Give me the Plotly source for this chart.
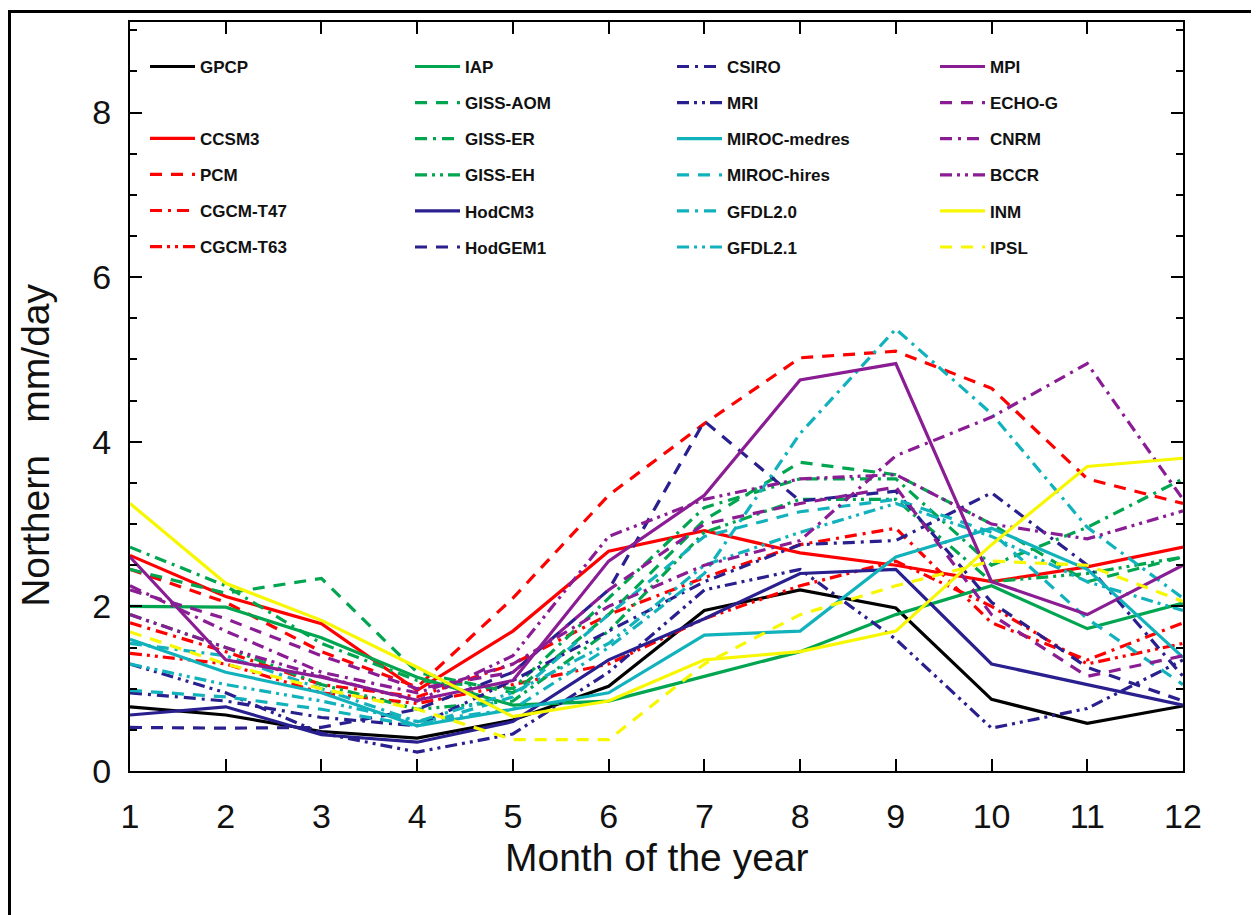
import plotly.graph_objects as go

months = list(range(1, 13))

# ---- data (mm/day), months 1..12 ----
GPCP = [0.78, 0.68, 0.48, 0.40, 0.62, 1.03, 1.95, 2.20, 1.98, 0.87, 0.58, 0.79]
CCSM3 = [2.62, 2.12, 1.79, 0.98, 1.70, 2.67, 2.92, 2.65, 2.50, 2.30, 2.48, 2.72]
PCM = [2.45, 2.05, 1.45, 1.02, 2.10, 3.35, 4.22, 5.02, 5.10, 4.65, 3.55, 3.25]
CGCM_T47 = [1.80, 1.45, 1.05, 0.90, 1.30, 1.90, 2.35, 2.75, 2.95, 1.80, 1.35, 1.80]
CGCM_T63 = [1.43, 1.30, 0.95, 0.82, 1.05, 1.30, 1.85, 2.25, 2.55, 2.00, 1.30, 1.55]
IAP = [2.00, 1.99, 1.62, 1.14, 0.80, 0.85, 1.15, 1.45, 1.90, 2.25, 1.73, 2.04]
GISS_AOM = [2.45, 2.16, 2.34, 1.20, 0.95, 1.90, 3.05, 3.75, 3.60, 3.00, 2.30, 2.60]
GISS_ER = [2.72, 2.25, 1.55, 1.10, 1.00, 2.10, 3.20, 3.55, 3.55, 2.50, 2.96, 3.55]
GISS_EH = [1.90, 1.50, 1.05, 0.75, 0.85, 1.70, 2.90, 3.30, 3.30, 2.30, 2.40, 2.60]
HadCM3 = [0.68, 0.78, 0.44, 0.35, 0.60, 1.35, 1.85, 2.40, 2.45, 1.30, 1.05, 0.80]
HadGEM1 = [0.53, 0.52, 0.53, 0.75, 1.20, 2.20, 4.25, 3.28, 3.40, 2.05, 1.26, 0.85]
CSIRO = [0.95, 0.85, 0.65, 0.55, 1.10, 1.70, 2.30, 2.75, 2.80, 3.38, 2.50, 1.15]
MRI = [1.30, 0.95, 0.46, 0.23, 0.45, 1.20, 2.20, 2.45, 1.60, 0.52, 0.76, 1.35]
MIROC_med = [1.60, 1.20, 0.95, 0.55, 0.75, 0.95, 1.65, 1.70, 2.60, 2.95, 2.45, 1.38]
MIROC_hi = [0.98, 0.90, 0.75, 0.55, 0.90, 1.90, 2.85, 3.15, 3.30, 2.90, 1.85, 1.05]
GFDL20 = [1.55, 1.40, 1.00, 0.60, 0.75, 1.50, 2.40, 4.10, 5.37, 4.34, 2.96, 2.10]
GFDL21 = [1.30, 1.05, 0.85, 0.60, 0.95, 1.55, 2.50, 2.90, 3.25, 2.85, 2.30, 1.95]
MPI = [2.60, 1.35, 1.14, 0.86, 1.10, 2.55, 3.35, 4.75, 4.95, 2.30, 1.90, 2.50]
ECHO_G = [2.20, 1.85, 1.40, 1.00, 1.20, 2.20, 3.00, 3.25, 3.45, 1.90, 1.15, 1.40]
CNRM = [2.25, 1.70, 1.20, 0.95, 1.30, 2.00, 2.50, 2.80, 3.83, 4.30, 4.95, 3.30]
BCCR = [1.90, 1.50, 1.15, 0.85, 1.40, 2.85, 3.30, 3.55, 3.60, 3.00, 2.82, 3.16]
INM = [3.25, 2.28, 1.83, 1.26, 0.66, 0.85, 1.35, 1.45, 1.70, 2.75, 3.70, 3.80]
IPSL = [1.69, 1.30, 1.00, 0.75, 0.38, 0.38, 1.30, 1.90, 2.25, 2.55, 2.50, 2.06]

y_tick_vals = [0, 2, 4, 6, 8]
x_tick_vals = months

# ---- styles ----
BLACK = "#000000"
RED = "#ff0000"
GREEN = "#00a550"
NAVY = "#2a1f8f"
CYAN = "#12b2bc"
PURPLE = "#8a1c94"
YELLOW = "#f7f700"

SOLID = "solid"
DASH = "12px,9px"
DASHDOT = "12px,6px,3px,6px"
DASHDOTDOT = "12px,5px,3px,5px,3px,5px"

series = [
    # (name, values, color, dash, legend)
    ("GPCP", GPCP, BLACK, SOLID, "legend"),
    ("CCSM3", CCSM3, RED, SOLID, "legend2"),
    ("PCM", PCM, RED, DASH, "legend2"),
    ("CGCM-T47", CGCM_T47, RED, DASHDOT, "legend2"),
    ("CGCM-T63", CGCM_T63, RED, DASHDOTDOT, "legend2"),
    ("IAP", IAP, GREEN, SOLID, "legend3"),
    ("GISS-AOM", GISS_AOM, GREEN, DASH, "legend3"),
    ("GISS-ER", GISS_ER, GREEN, DASHDOT, "legend3"),
    ("GISS-EH", GISS_EH, GREEN, DASHDOTDOT, "legend3"),
    ("HodCM3", HadCM3, NAVY, SOLID, "legend3"),
    ("HodGEM1", HadGEM1, NAVY, DASH, "legend3"),
    ("CSIRO", CSIRO, NAVY, DASHDOT, "legend4"),
    ("MRI", MRI, NAVY, DASHDOTDOT, "legend4"),
    ("MIROC-medres", MIROC_med, CYAN, SOLID, "legend4"),
    ("MIROC-hires", MIROC_hi, CYAN, DASH, "legend4"),
    ("GFDL2.0", GFDL20, CYAN, DASHDOT, "legend4"),
    ("GFDL2.1", GFDL21, CYAN, DASHDOTDOT, "legend4"),
    ("MPI", MPI, PURPLE, SOLID, "legend5"),
    ("ECHO-G", ECHO_G, PURPLE, DASH, "legend5"),
    ("CNRM", CNRM, PURPLE, DASHDOT, "legend5"),
    ("BCCR", BCCR, PURPLE, DASHDOTDOT, "legend5"),
    ("INM", INM, YELLOW, SOLID, "legend5"),
    ("IPSL", IPSL, YELLOW, DASH, "legend5"),
]

fig = go.Figure()
for name, vals, color, dash, lg in series:
    fig.add_trace(go.Scatter(
        x=months, y=vals, mode="lines", name=name,
        line=dict(color=color, width=3.2, dash=dash),
        legend=lg, legendgroup=name,
    ))

# page geometry (the page body has an 8px margin around the figure)
OFF = 8
PAGE_W, PAGE_H = 1259, 915
PL, PR, PT, PB = 130, 1183, 20, 771          # plot area in page pixels
W, H = PAGE_W - OFF, PAGE_H - OFF
pw, ph = PR - PL, PB - PT


def px_x(px):
    return (px - PL) / pw


def px_y(py):
    return (PB - py) / ph


legend_font = dict(family="Liberation Sans, Arial, sans-serif", size=17, color="#111", weight="bold")
ROW = 36.0
common = dict(bgcolor="rgba(0,0,0,0)", borderwidth=0, font=legend_font, orientation="v",
              xanchor="left", yanchor="top", tracegroupgap=ROW - 25, itemwidth=45,
              traceorder="grouped")
legend_top = 47
fig.update_layout(
    legend=dict(x=px_x(145), y=px_y(legend_top), **common),
    legend2=dict(x=px_x(145), y=px_y(legend_top + 2 * ROW), **common),
    legend3=dict(x=px_x(410), y=px_y(legend_top), **common),
    legend4=dict(x=px_x(672), y=px_y(legend_top), **common),
    legend5=dict(x=px_x(935), y=px_y(legend_top), **common),
)

tick_font = dict(family="Liberation Sans, Arial, sans-serif", size=34, color="#111")
fig.update_xaxes(
    range=[1, 12], tickvals=x_tick_vals, ticktext=[str(v) for v in x_tick_vals],
    ticks="inside", ticklen=12, tickwidth=1.5, tickcolor="black",
    showline=True, linecolor="black", linewidth=2, mirror="allticks",
    showgrid=False, zeroline=False, tickfont=tick_font, ticklabelstandoff=14,
)
fig.update_yaxes(
    range=[0, 9.1], tickvals=y_tick_vals, ticktext=[str(v) for v in y_tick_vals],
    ticks="inside", ticklen=12, tickwidth=1.5, tickcolor="black",
    minor=dict(dtick=0.5, tick0=0, ticks="inside", ticklen=7, tickwidth=1.5, tickcolor="black"),
    showline=True, linecolor="black", linewidth=2, mirror="allticks",
    showgrid=False, zeroline=False, tickfont=tick_font, ticklabelstandoff=10,
)

title_font = dict(family="Liberation Sans, Arial, sans-serif", size=39, color="#111")
fig.add_annotation(text="Month of the year", xref="paper", yref="paper",
                   x=0.5, y=px_y(858), showarrow=False, font=title_font,
                   xanchor="center", yanchor="middle")
fig.add_annotation(text="Northern\u00a0\u00a0\u00a0mm/day", xref="paper", yref="paper",
                   x=px_x(36), y=px_y(445), showarrow=False, font=title_font,
                   textangle=-90, xanchor="center", yanchor="middle")

# outer frame
fig.add_shape(type="rect", xref="paper", yref="paper",
              x0=px_x(9.5), x1=px_x(1253), y0=px_y(930), y1=px_y(9.5),
              line=dict(color="black", width=3), fillcolor="rgba(0,0,0,0)", layer="below")

fig.update_layout(
    width=W, height=H,
    margin=dict(l=PL - OFF, r=PAGE_W - PR, t=PT - OFF, b=PAGE_H - PB),
    paper_bgcolor="white", plot_bgcolor="white", showlegend=True,
)

fig.write_html("out.html")
